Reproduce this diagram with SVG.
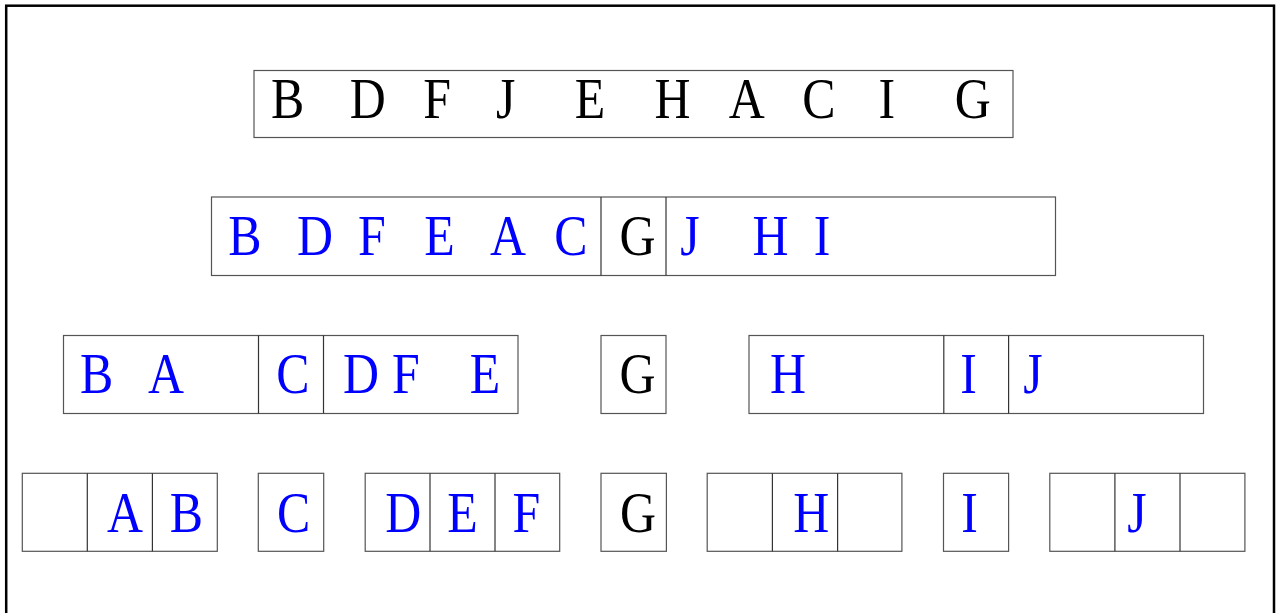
<svg xmlns="http://www.w3.org/2000/svg" width="1276" height="613" viewBox="0 0 1276 613">
  <style>
    .frame { fill: none; stroke: #000; stroke-width: 2.5; }
    .box { fill: #fff; stroke: #555; stroke-width: 1.2; }
    .div { stroke: #333; stroke-width: 1.2; }
    text { font-family: "Liberation Serif", "DejaVu Serif", serif; font-size: 58px; text-anchor: middle;
           transform-box: fill-box; transform-origin: center; transform: scaleX(0.86); }
    .k { fill: #000; }
    .b { fill: #0000ff; }
  </style>
  <rect width="1276" height="613" fill="#fff"/>
  <rect class="frame" x="6.2" y="5.7" width="1267.8" height="620"/>

  <!-- level 0: original sequence -->
  <g id="row0">
    <rect class="box" x="254" y="70.5" width="759" height="67"/>
    <text class="k" x="287.7" y="117.7">B</text>
    <text class="k" x="367.8" y="117.7">D</text>
    <text class="k" x="437.2" y="117.7">F</text>
    <text class="k" x="505.8" y="117.7">J</text>
    <text class="k" x="590" y="117.7">E</text>
    <text class="k" x="672.5" y="117.7">H</text>
    <text class="k" x="746.7" y="117.7">A</text>
    <text class="k" x="818.8" y="117.7">C</text>
    <text class="k" x="886.7" y="117.7">I</text>
    <text class="k" x="972.8" y="117.7">G</text>
  </g>

  <!-- level 1: partition around G -->
  <g id="row1">
    <rect class="box" x="211.5" y="197" width="844" height="78.5"/>
    <line class="div" x1="601" y1="197" x2="601" y2="275.5"/>
    <line class="div" x1="666" y1="197" x2="666" y2="275.5"/>
    <text class="b" x="245" y="255">B</text>
    <text class="b" x="315" y="255">D</text>
    <text class="b" x="372" y="255">F</text>
    <text class="b" x="439.5" y="255">E</text>
    <text class="b" x="508" y="255">A</text>
    <text class="b" x="571" y="255">C</text>
    <text class="k" x="637.5" y="255">G</text>
    <text class="b" x="690" y="255">J</text>
    <text class="b" x="770.5" y="255">H</text>
    <text class="b" x="822" y="255">I</text>
  </g>

  <!-- level 2 -->
  <g id="row2-left">
    <rect class="box" x="63.5" y="335.5" width="454.5" height="78"/>
    <line class="div" x1="258.5" y1="335.5" x2="258.5" y2="413.5"/>
    <line class="div" x1="323.5" y1="335.5" x2="323.5" y2="413.5"/>
    <text class="b" x="96.7" y="393">B</text>
    <text class="b" x="166" y="393">A</text>
    <text class="b" x="293" y="393">C</text>
    <text class="b" x="361" y="393">D</text>
    <text class="b" x="405.8" y="393">F</text>
    <text class="b" x="485" y="393">E</text>
  </g>
  <g id="row2-mid">
    <rect class="box" x="601" y="335.5" width="65" height="78"/>
    <text class="k" x="637.5" y="393">G</text>
  </g>
  <g id="row2-right">
    <rect class="box" x="749" y="335.5" width="454.5" height="78"/>
    <line class="div" x1="943.8" y1="335.5" x2="943.8" y2="413.5"/>
    <line class="div" x1="1008.6" y1="335.5" x2="1008.6" y2="413.5"/>
    <text class="b" x="787.9" y="393">H</text>
    <text class="b" x="968.6" y="393">I</text>
    <text class="b" x="1033" y="393">J</text>
  </g>

  <!-- level 3 -->
  <g id="row3-ab">
    <rect class="box" x="22.3" y="473.3" width="195" height="78"/>
    <line class="div" x1="87.3" y1="473.3" x2="87.3" y2="551.3"/>
    <line class="div" x1="152.4" y1="473.3" x2="152.4" y2="551.3"/>
    <text class="b" x="124.9" y="531.7">A</text>
    <text class="b" x="186.3" y="531.7">B</text>
  </g>
  <g id="row3-c">
    <rect class="box" x="258.3" y="473.3" width="65.4" height="78"/>
    <text class="b" x="293.6" y="531.7">C</text>
  </g>
  <g id="row3-def">
    <rect class="box" x="365.2" y="473.3" width="194.5" height="78"/>
    <line class="div" x1="430" y1="473.3" x2="430" y2="551.3"/>
    <line class="div" x1="495" y1="473.3" x2="495" y2="551.3"/>
    <text class="b" x="403.3" y="531.7">D</text>
    <text class="b" x="462.4" y="531.7">E</text>
    <text class="b" x="526.4" y="531.7">F</text>
  </g>
  <g id="row3-g">
    <rect class="box" x="601" y="473.3" width="65.4" height="78"/>
    <text class="k" x="637.9" y="531.7">G</text>
  </g>
  <g id="row3-h">
    <rect class="box" x="707.2" y="473.3" width="194.7" height="78"/>
    <line class="div" x1="772.4" y1="473.3" x2="772.4" y2="551.3"/>
    <line class="div" x1="837.6" y1="473.3" x2="837.6" y2="551.3"/>
    <text class="b" x="811.3" y="531.7">H</text>
  </g>
  <g id="row3-i">
    <rect class="box" x="943.5" y="473.3" width="65.1" height="78"/>
    <text class="b" x="969.5" y="531.7">I</text>
  </g>
  <g id="row3-j">
    <rect class="box" x="1049.8" y="473.3" width="195.1" height="78"/>
    <line class="div" x1="1114.9" y1="473.3" x2="1114.9" y2="551.3"/>
    <line class="div" x1="1180" y1="473.3" x2="1180" y2="551.3"/>
    <text class="b" x="1137" y="531.7">J</text>
  </g>

  <!-- no connectors in this figure -->
  <g id="connectors"/>
</svg>
